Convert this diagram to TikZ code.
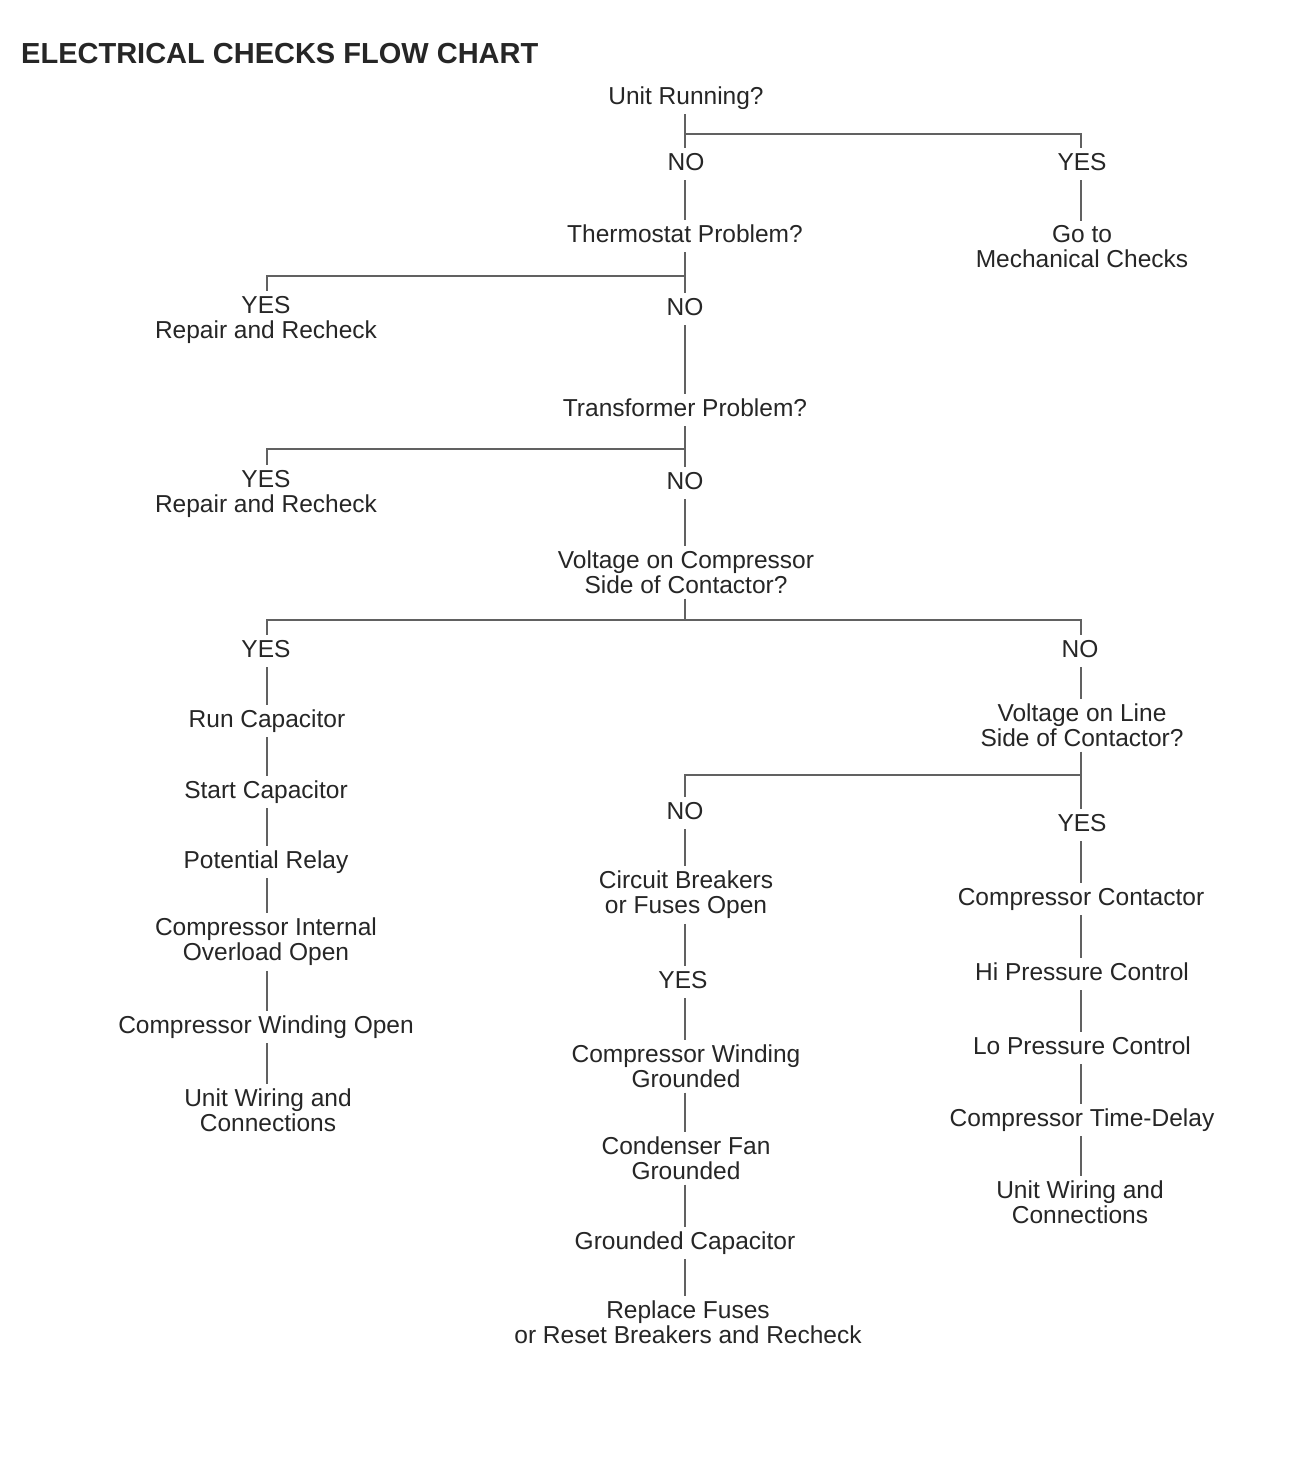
\documentclass[tikz,border=0pt]{standalone}
\usepackage{fontspec}
\setmainfont{Liberation Sans}
\begin{document}
\begin{tikzpicture}[x=1pt,y=-1pt,
  lbl/.style={font=\fontsize{24.5}{25}\selectfont, text=black!85, align=center, inner xsep=2pt, inner ysep=5pt, outer sep=0pt},
  one/.style={lbl, text height=17.5pt, text depth=5pt, yshift=-2pt},
  ln/.style={draw=black!62, line width=1.8pt}]
\useasboundingbox (0,0) rectangle (1296,1466);
\fill[white] (0,0) rectangle (1296,1466);
\node[anchor=west, inner sep=0pt, font=\fontsize{29}{30}\selectfont\bfseries, text=black!85] (title) at (21,53.5) {ELECTRICAL CHECKS FLOW CHART};
% main column
\node[one] (u) at (686,96) {Unit Running?};
\node[one] (no1) at (686,162) {NO};
\node[one] (yes1) at (1082,162) {YES};
\node[lbl] (mech) at (1082,247) {Go to\\Mechanical Checks};
\node[one] (thermo) at (685,234) {Thermostat Problem?};
\node[lbl] (yesA) at (266,320) {YES\\Repair and Recheck};
\node[one] (no2) at (685,307) {NO};
\node[one] (trans) at (685,408) {Transformer Problem?};
\node[lbl] (yesB) at (266,494) {YES\\Repair and Recheck};
\node[one] (no3) at (685,481) {NO};
\node[lbl] (vcomp) at (686,572) {Voltage on Compressor\\Side of Contactor?};
% left column
\node[one] (yesC) at (266,649) {YES};
\node[one] (run) at (267,719) {Run Capacitor};
\node[one] (start) at (266,790) {Start Capacitor};
\node[one] (pot) at (266,860) {Potential Relay};
\node[lbl] (cio) at (266,942) {Compressor Internal\\Overload Open};
\node[one] (cwo) at (266,1025) {Compressor Winding Open};
\node[lbl] (uw1) at (268,1110) {Unit Wiring and\\Connections};
% right column
\node[one] (no4) at (1080,649) {NO};
\node[lbl] (vline) at (1082,725) {Voltage on Line\\Side of Contactor?};
\node[one] (yesE) at (1082,823) {YES};
\node[one] (cc) at (1081,897) {Compressor Contactor};
\node[one] (hpc) at (1082,972) {Hi Pressure Control};
\node[one] (lpc) at (1082,1046) {Lo Pressure Control};
\node[one] (ctd) at (1082,1118) {Compressor Time-Delay};
\node[lbl] (uw2) at (1080,1202) {Unit Wiring and\\Connections};
% middle lower column
\node[one] (no5) at (685,811) {NO};
\node[lbl] (cbf) at (686,895) {Circuit Breakers\\or Fuses Open};
\node[one] (yesD) at (683,980) {YES};
\node[lbl] (cwg) at (686,1066) {Compressor Winding\\Grounded};
\node[lbl] (cfg) at (686,1158) {Condenser Fan\\Grounded};
\node[one] (gc) at (685,1241) {Grounded Capacitor};
\node[lbl] (rf) at (688,1322) {Replace Fuses\\or Reset Breakers and Recheck};
% junctions
\coordinate (j1) at (685,134);
\coordinate (j2) at (685,276);
\coordinate (j3) at (685,449);
\coordinate (j4) at (685,620);
\coordinate (j5) at (1081,775);
\coordinate (cL) at (267,0);
\coordinate (cM) at (685,0);
\coordinate (cR) at (1081,0);
% connectors
\draw[ln] (cM |- u.south) -- (cM |- no1.north);
\draw[ln] (j1) -| (cR |- yes1.north);
\draw[ln] (cR |- yes1.south) -- (cR |- mech.north);
\draw[ln] (cM |- no1.south) -- (cM |- thermo.north);
\draw[ln] (cM |- thermo.south) -- (cM |- no2.north);
\draw[ln] (j2) -| (cL |- yesA.north);
\draw[ln] (cM |- no2.south) -- (cM |- trans.north);
\draw[ln] (cM |- trans.south) -- (cM |- no3.north);
\draw[ln] (j3) -| (cL |- yesB.north);
\draw[ln] (cM |- no3.south) -- (cM |- vcomp.north);
\draw[ln] (cM |- vcomp.south) -- (j4);
\draw[ln] (cL |- yesC.north) |- (j4) -| (cR |- no4.north);
\draw[ln] (cL |- yesC.south) -- (cL |- run.north);
\draw[ln] (cL |- run.south) -- (cL |- start.north);
\draw[ln] (cL |- start.south) -- (cL |- pot.north);
\draw[ln] (cL |- pot.south) -- (cL |- cio.north);
\draw[ln] (cL |- cio.south) -- (cL |- cwo.north);
\draw[ln] (cL |- cwo.south) -- (cL |- uw1.north);
\draw[ln] (cR |- no4.south) -- (cR |- vline.north);
\draw[ln] (cR |- vline.south) -- (cR |- yesE.north);
\draw[ln] (j5) -| (cM |- no5.north);
\draw[ln] (cR |- yesE.south) -- (cR |- cc.north);
\draw[ln] (cR |- cc.south) -- (cR |- hpc.north);
\draw[ln] (cR |- hpc.south) -- (cR |- lpc.north);
\draw[ln] (cR |- lpc.south) -- (cR |- ctd.north);
\draw[ln] (cR |- ctd.south) -- (cR |- uw2.north);
\draw[ln] (cM |- no5.south) -- (cM |- cbf.north);
\draw[ln] (cM |- cbf.south) -- (cM |- yesD.north);
\draw[ln] (cM |- yesD.south) -- (cM |- cwg.north);
\draw[ln] (cM |- cwg.south) -- (cM |- cfg.north);
\draw[ln] (cM |- cfg.south) -- (cM |- gc.north);
\draw[ln] (cM |- gc.south) -- (cM |- rf.north);
\end{tikzpicture}
\end{document}
